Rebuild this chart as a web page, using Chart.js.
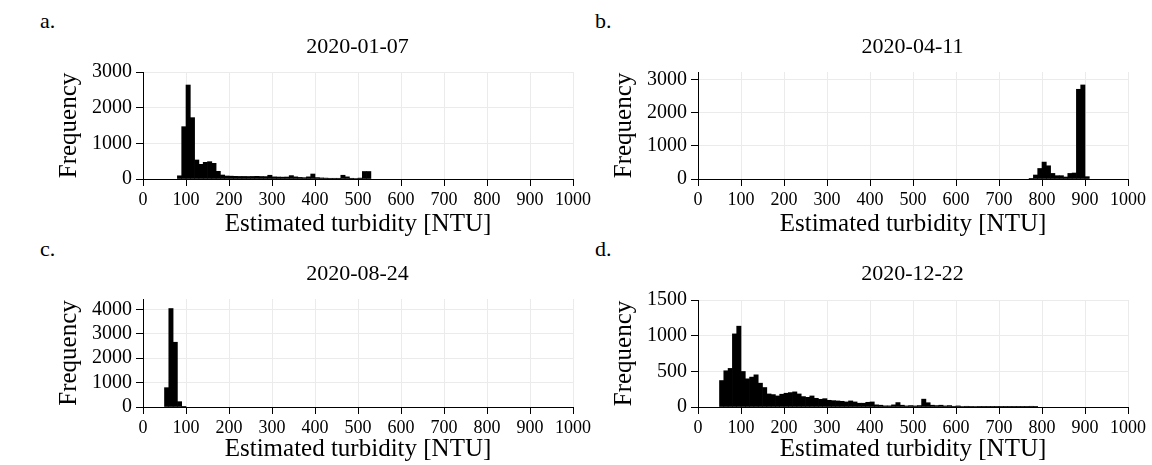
<!DOCTYPE html>
<html>
<head>
<meta charset="utf-8">
<script src="https://cdn.jsdelivr.net/npm/chart.js@4.4.1/dist/chart.umd.min.js"></script>
<style>
  body { margin: 0; background: #fff; width: 1152px; height: 465px; position: relative; overflow: hidden; font-family: "Liberation Serif", serif; }
  .panel { position: absolute; }
  .lab { position: absolute; font-size: 22px; color: #000; }
  .ttl { position: absolute; width: 429px; text-align: center; font-size: 22px; line-height: 26px; color: #000; }
</style>
</head>
<body>
<div class="lab" style="left:40px;top:8px">a.</div>
<div class="lab" style="left:595px;top:8px">b.</div>
<div class="lab" style="left:40px;top:236px">c.</div>
<div class="lab" style="left:595px;top:236px">d.</div>

<div class="panel" style="left:0;top:0"><canvas id="histA" width="594" height="240"></canvas></div>
<div class="panel" style="left:555px;top:0"><canvas id="histB" width="594" height="240"></canvas></div>
<div class="panel" style="left:0;top:230px"><canvas id="histC" width="594" height="235"></canvas></div>
<div class="panel" style="left:555px;top:230px"><canvas id="histD" width="594" height="235"></canvas></div>

<div class="ttl" id="ttlA" style="left:143px;top:33px"></div>
<div class="ttl" id="ttlB" style="left:698px;top:33px"></div>
<div class="ttl" id="ttlC" style="left:143px;top:260px"></div>
<div class="ttl" id="ttlD" style="left:698px;top:260px"></div>

<script>
// histogram bins are 10 NTU wide; each series starts at its first non-empty bin
const binWidth = 10;

const datesA = '2020-01-07';
const startA = 80;
const countsA = [90, 1467, 2635, 1720, 533, 411, 467, 486, 439, 215,
  112, 84, 80, 75, 72, 72, 70, 72, 75, 70,
  68, 105, 60, 55, 52, 55, 95, 60, 45, 38,
  60, 140, 40, 30, 25, 20, 20, 20, 105, 60,
  20, 15, 25, 210, 210];
const yTicksA = [0, 1000, 2000, 3000];

const datesB = '2020-04-11';
const startB = 770;
const countsB = [20, 120, 317, 509, 398, 168, 100, 100, 60, 168, 180, 2700, 2830, 70];
const yTicksB = [0, 1000, 2000, 3000];

const datesC = '2020-08-24';
const startC = 50;
const countsC = [791, 4030, 2650, 218, 10];
const yTicksC = [0, 1000, 2000, 3000, 4000];

const datesD = '2020-12-22';
const startD = 50;
const countsD = [371, 508, 541, 1025, 1133, 498, 395, 419, 451, 334,
  273, 183, 174, 155, 179, 193, 202, 212, 183, 146,
  136, 155, 122, 108, 117, 94, 89, 85, 80, 71,
  85, 71, 53, 53, 66, 71, 30, 25, 16, 16,
  30, 62, 25, 15, 20, 15, 20, 110, 60, 25,
  20, 25, 15, 20, 10, 15, 8, 10, 5, 8,
  3, 3, 3, 3, 3, 3, 3, 3, 3, 3,
  3, 3, 10, 3];
const yTicksD = [0, 500, 1000, 1500];

const xTicks = [0, 100, 200, 300, 400, 500, 600, 700, 800, 900, 1000];

const serif = '"Liberation Serif", "Times New Roman", serif';

function makeHist(id, date, start, counts, yMax, yTicks, topPad, xHeight) {
  // panel title sits centred over the plot area
  document.getElementById(id.replace('hist', 'ttl')).textContent = date;
  const pts = counts.map((c, i) => ({ x: start + i * binWidth + binWidth / 2, y: c }));
  new Chart(document.getElementById(id), {
    type: 'bar',
    data: {
      datasets: [{
        data: pts,
        backgroundColor: '#000',
        borderWidth: 0,
        barPercentage: 1,
        categoryPercentage: 1
      }]
    },
    options: {
      animation: false,
      responsive: false,
      layout: { padding: { right: 4, left: 0, top: topPad, bottom: 0 } },
      plugins: {
        legend: { display: false },
        tooltip: { enabled: false },
        title: { display: false }
      },
      scales: {
        x: {
          type: 'linear',
          min: 0,
          max: 1000,
          offset: false,
          afterBuildTicks: s => { s.ticks = xTicks.map(v => ({ value: v })); },
          ticks: { color: '#000', font: { family: serif, size: 18 }, padding: 3, maxRotation: 0, autoSkip: false, callback: v => String(v) },
          grid: { color: '#ebebeb', tickColor: '#000', tickLength: 7, offset: false },
          border: { color: '#000', width: 1 },
          title: {
            display: true,
            text: 'Estimated turbidity [NTU]',
            color: '#000',
            font: { family: serif, size: 25, lineHeight: 1 },
            padding: { top: 0, bottom: 3 }
          },
          afterFit: s => { s.height = xHeight; }
        },
        y: {
          min: 0,
          max: yMax,
          afterBuildTicks: s => { s.ticks = yTicks.map(v => ({ value: v })); },
          ticks: { color: '#000', font: { family: serif, size: 20 }, padding: 4, callback: v => String(v) },
          grid: { color: '#ebebeb', tickColor: '#000', tickLength: 7 },
          border: { color: '#000', width: 1 },
          title: {
            display: true,
            text: 'Frequency',
            color: '#000',
            font: { family: serif, size: 25, lineHeight: 1 },
            padding: { top: 57, bottom: 0 }
          },
          afterFit: s => { s.width = 143; }
        }
      }
    }
  });
}

makeHist('histA', datesA, startA, countsA, 3000, yTicksA, 72, 61);
makeHist('histB', datesB, startB, countsB, 3220, yTicksB, 72, 61);
makeHist('histC', datesC, startC, countsC, 4420, yTicksC, 69, 58);
makeHist('histD', datesD, startD, countsD, 1500, yTicksD, 70, 58);
</script>
</body>
</html>
